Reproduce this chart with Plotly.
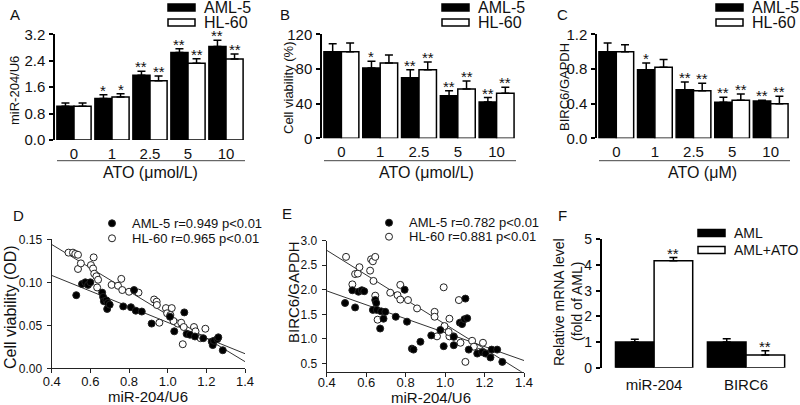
import plotly.graph_objects as go
import numpy as np

W, H = 800, 405

# ---------------- data ----------------
ato_labels = ["0", "1", "2.5", "5", "10"]

a_aml5 = [1.02, 1.26, 1.96, 2.65, 2.83]
a_aml5_err = [0.10, 0.11, 0.12, 0.11, 0.19]
a_hl60 = [1.02, 1.30, 1.79, 2.32, 2.45]
a_hl60_err = [0.10, 0.10, 0.15, 0.14, 0.15]
a_aml5_sig = ["", "*", "**", "**", "**"]
a_hl60_sig = ["", "*", "**", "**", "**"]

b_aml5 = [100, 81, 70, 49, 42]
b_aml5_err = [9, 8, 9, 6, 5]
b_hl60 = [100, 87, 79, 57, 52]
b_hl60_err = [10, 9, 9, 9, 7]
b_aml5_sig = ["", "*", "**", "**", "**"]
b_hl60_sig = ["", "", "**", "**", "**"]

c_aml5 = [1.00, 0.79, 0.56, 0.415, 0.43]
c_aml5_err = [0.10, 0.08, 0.09, 0.06, 0.01]
c_hl60 = [1.00, 0.82, 0.55, 0.44, 0.40]
c_hl60_err = [0.08, 0.09, 0.085, 0.07, 0.085]
c_aml5_sig = ["", "*", "**", "**", "**"]
c_hl60_sig = ["", "", "**", "**", "**"]

d_aml5_x = [0.527, 0.557, 0.574, 0.588, 0.600, 0.661, 0.666, 0.670, 0.683, 0.690,
            0.687, 0.700, 0.770, 0.810, 0.826, 0.835, 0.866, 0.917, 1.012, 1.034,
            1.086, 1.098, 1.115, 1.141, 1.184, 1.228, 1.233, 1.240, 1.257, 1.262, 1.285]
d_aml5_y = [0.085, 0.098, 0.100, 0.097, 0.100, 0.088, 0.083, 0.078, 0.079, 0.076,
            0.069, 0.074, 0.072, 0.071, 0.091, 0.067, 0.066, 0.052, 0.060, 0.043,
            0.065, 0.040, 0.039, 0.037, 0.035, 0.031, 0.027, 0.032, 0.034, 0.036, 0.021]
d_hl60_x = [0.487, 0.510, 0.522, 0.536, 0.536, 0.551, 0.603, 0.614, 0.617, 0.620,
            0.631, 0.640, 0.635, 0.710, 0.743, 0.760, 0.765, 0.800, 0.849, 0.930,
            0.943, 0.944, 0.957, 0.991, 0.997, 1.014, 1.021, 1.052, 1.070, 1.078,
            1.083, 1.136, 1.144, 1.170, 1.195, 1.030]
d_hl60_y = [0.1345, 0.1345, 0.133, 0.132, 0.1155, 0.122, 0.120, 0.116, 0.129, 0.110,
            0.107, 0.103, 0.094, 0.097, 0.096, 0.104, 0.091, 0.089, 0.088, 0.080,
            0.0775, 0.0736, 0.053, 0.070, 0.064, 0.062, 0.070, 0.052, 0.053, 0.028,
            0.048, 0.048, 0.043, 0.035, 0.046, 0.055]

e_aml5_x = [0.493, 0.530, 0.544, 0.561, 0.578, 0.590, 0.634, 0.646, 0.651, 0.654,
            0.671, 0.676, 0.688, 0.697, 0.750, 0.795, 0.807, 0.832, 0.840, 0.875,
            0.930, 0.976, 0.993, 1.044, 1.044, 1.075, 1.086, 1.098, 1.103, 1.112,
            1.120, 1.163, 1.188, 1.205, 1.230, 1.236, 1.264, 1.290]
e_aml5_y = [1.73, 1.99, 1.64, 1.96, 1.99, 1.97, 1.59, 1.79, 1.73, 1.59,
            1.21, 1.56, 1.41, 1.55, 1.45, 2.00, 1.35, 0.80, 0.78, 0.94,
            1.07, 1.18, 0.85, 1.04, 0.87, 1.33, 1.30, 1.40, 1.82, 1.42,
            0.78, 0.70, 0.73, 0.70, 0.62, 0.78, 0.78, 0.53]
e_hl60_x = [0.498, 0.530, 0.544, 0.558, 0.566, 0.620, 0.625, 0.634, 0.646, 0.637,
            0.646, 0.658, 0.722, 0.759, 0.773, 0.773, 0.812, 0.858, 0.947, 0.947,
            0.959, 0.993, 0.997, 1.022, 1.022, 1.044, 1.070, 1.078, 1.103, 1.137,
            1.146, 1.171, 1.192, 1.018]
e_hl60_y = [2.67, 2.11, 2.32, 2.33, 2.46, 2.39, 2.62, 2.58, 2.67, 2.18,
            1.88, 1.39, 1.94, 1.89, 2.10, 1.80, 1.79, 1.62, 1.55, 1.45,
            1.05, 2.05, 1.26, 1.41, 1.05, 1.05, 1.79, 0.92, 0.53, 0.96,
            0.84, 0.73, 0.92, 1.14]

f_genes = ["miR-204", "BIRC6"]
f_aml = [1.00, 1.00]
f_aml_err = [0.11, 0.13]
f_ato = [4.16, 0.49]
f_ato_err = [0.13, 0.17]
f_aml_sig = ["", ""]
f_ato_sig = ["**", "**"]

# ---------------- helpers ----------------
FONT = "Arial, 'Liberation Sans', sans-serif"
INK = "#111111"


def px(x):
    return x / W


def py(y):
    return 1 - y / H


fig = go.Figure()
annotations = []
shapes = []


def text(x, y, s, size, xanchor="center", yanchor="middle", angle=0):
    annotations.append(dict(x=px(x), y=py(y), xref="paper", yref="paper", text=s,
                            showarrow=False, xanchor=xanchor, yanchor=yanchor,
                            textangle=angle, font=dict(size=size, family=FONT, color=INK)))


def bars(xa, ya, s1, e1, s2, e2, sig1, sig2, w):
    x = list(range(len(s1)))
    n = len(s1)
    common = dict(xaxis=xa, yaxis=ya, showlegend=False, hoverinfo="skip")
    fig.add_bar(x=x, y=s1, width=w, offset=-w,
                marker=dict(color="black", line=dict(color="black", width=1.5)),
                error_y=dict(type="data", array=e1, arrayminus=[0] * n, symmetric=False,
                             color="black", thickness=1.5, width=4), **common)
    fig.add_bar(x=x, y=s2, width=w, offset=0,
                marker=dict(color="white", line=dict(color="black", width=1.5)),
                error_y=dict(type="data", array=e2, arrayminus=[0] * n, symmetric=False,
                             color="black", thickness=1.5, width=4), **common)
    for i in range(n):
        for val, err, sg, sh in ((s1[i], e1[i], sig1[i], -w / 2), (s2[i], e2[i], sig2[i], w / 2)):
            if sg:
                annotations.append(dict(x=i + sh, y=val + err, xref=xa, yref=ya, text=sg,
                                        showarrow=False, yanchor="bottom", yshift=-6,
                                        font=dict(size=15, family=FONT, color=INK)))


def rect_legend(x0, labels, fills, ys, size=15, w=27, h=7):
    for lab, fill, yc in zip(labels, fills, ys):
        shapes.append(dict(type="rect", xref="paper", yref="paper",
                           x0=px(x0), x1=px(x0 + w), y0=py(yc + h / 2), y1=py(yc - h / 2),
                           fillcolor=fill, line=dict(color="black", width=1.5)))
        text(x0 + w + 7, yc, lab, size, xanchor="left")


def dot_legend(cx, labels, fills, ys, size=12, d=7):
    for lab, fill, yc in zip(labels, fills, ys):
        shapes.append(dict(type="circle", xref="paper", yref="paper",
                           x0=px(cx - d / 2), x1=px(cx + d / 2), y0=py(yc + d / 2), y1=py(yc - d / 2),
                           fillcolor=fill, line=dict(color="#222222", width=1)))
        text(cx + 18, yc, lab, size, xanchor="left")


def scatter(xa, ya, xs, ys, fill):
    fig.add_scatter(x=xs, y=ys, mode="markers", xaxis=xa, yaxis=ya, showlegend=False,
                    marker=dict(size=7, color=fill, line=dict(color="#222222", width=1)),
                    hoverinfo="skip")


def fitline(xa, ya, xs, ys, x0, x1):
    k, b = np.polyfit(xs, ys, 1)
    xx = [x0, x1]
    fig.add_scatter(x=xx, y=[k * v + b for v in xx], mode="lines", xaxis=xa, yaxis=ya,
                    showlegend=False, line=dict(color="#333333", width=1), hoverinfo="skip")


# ---------------- traces ----------------
BW = 0.45
bars("x", "y", a_aml5, a_aml5_err, a_hl60, a_hl60_err, a_aml5_sig, a_hl60_sig, BW)
bars("x2", "y2", b_aml5, b_aml5_err, b_hl60, b_hl60_err, b_aml5_sig, b_hl60_sig, BW)
bars("x3", "y3", c_aml5, c_aml5_err, c_hl60, c_hl60_err, c_aml5_sig, c_hl60_sig, BW)

fitline("x4", "y4", d_aml5_x, d_aml5_y, 0.4, 1.4)
fitline("x4", "y4", d_hl60_x, d_hl60_y, 0.4, 1.4)
scatter("x4", "y4", d_hl60_x, d_hl60_y, "white")
scatter("x4", "y4", d_aml5_x, d_aml5_y, "black")

fitline("x5", "y5", e_aml5_x, e_aml5_y, 0.4, 1.4)
fitline("x5", "y5", e_hl60_x, e_hl60_y, 0.4, 1.4)
scatter("x5", "y5", e_hl60_x, e_hl60_y, "white")
scatter("x5", "y5", e_aml5_x, e_aml5_y, "black")

bars("x6", "y6", f_aml, f_aml_err, f_ato, f_ato_err, f_aml_sig, f_ato_sig, 0.42)

# ---------------- axes ----------------
tickfont = dict(size=15, family=FONT, color=INK)
small_tickfont = dict(size=12, family=FONT, color=INK)


def yax(dom, rng, tv, fmt, anchor, font=tickfont):
    return dict(domain=[py(dom[1]), py(dom[0])], range=rng, tickvals=tv, tickformat=fmt,
                showline=True, linecolor="black", linewidth=1.5, ticks="outside",
                ticklen=4, tickwidth=1.5, tickcolor="black", showgrid=False,
                zeroline=False, anchor=anchor, tickfont=font, fixedrange=True,
                automargin=False, ticklabelstandoff=1)


def xcat(dom, rng, labels, anchor, standoff=3):
    return dict(domain=[px(dom[0]), px(dom[1])], range=rng,
                tickvals=list(range(len(labels))), ticktext=labels,
                showline=False, ticks="", showgrid=False, zeroline=False, anchor=anchor,
                tickfont=tickfont, ticklabelstandoff=standoff, fixedrange=True,
                automargin=False)


def xnum(dom, anchor, standoff=0):
    return dict(domain=[px(dom[0]), px(dom[1])], range=[0.4, 1.4],
                tickvals=[0.4, 0.6, 0.8, 1.0, 1.2, 1.4], tickformat=".1f",
                showline=True, linecolor="#222222", linewidth=1.2, ticks="outside",
                ticklen=4, tickwidth=1.2, tickcolor="#222222", showgrid=False,
                zeroline=False, anchor=anchor, tickfont=dict(size=13, family=FONT, color=INK),
                fixedrange=True, automargin=False, ticklabelstandoff=standoff)


layout = dict(
    template="none",
    width=W, height=H, autosize=False,
    margin=dict(l=0, r=0, t=0, b=0, pad=0),
    paper_bgcolor="white", plot_bgcolor="white",
    barmode="overlay", showlegend=False,
    font=dict(family=FONT, color=INK),
    xaxis=xcat((55, 245), [-0.5, 4.5], ato_labels, "y"),
    yaxis=yax((34.3, 140), [0, 3.2], [0, 0.8, 1.6, 2.4, 3.2], ".1f", "x"),
    xaxis2=xcat((322, 516), [-0.5, 4.5], ato_labels, "y2"),
    yaxis2=yax((34.3, 138.3), [0, 120], [0, 40, 80, 120], "d", "x2"),
    xaxis3=xcat((597, 790), [-0.5, 4.5], ato_labels, "y3"),
    yaxis3=yax((34.3, 138.3), [0, 1.2], [0, 0.4, 0.8, 1.2], ".1f", "x3"),
    xaxis4=xnum((51.7, 245), "y4", standoff=-3),
    yaxis4=dict(yax((239.3, 368.3), [0, 0.15], [0, 0.05, 0.10, 0.15], ".2f", "x4", small_tickfont),
                linecolor="#222222", linewidth=1.2, tickcolor="#222222", tickwidth=1.2,
                ticklabelstandoff=2),
    xaxis5=xnum((326.7, 524), "y5", standoff=-5),
    yaxis5=dict(yax((240.7, 371.7), [0.33, 3.0], [0.5, 1.0, 1.5, 2.0, 2.5, 3.0], ".1f", "x5", small_tickfont),
                linecolor="#222222", linewidth=1.2, tickcolor="#222222", tickwidth=1.2,
                ticklabelstandoff=2),
    xaxis6=xcat((601.7, 792), [-0.57, 1.5], f_genes, "y6", standoff=6),
    yaxis6=yax((239.3, 367.7), [0, 5], [0, 1, 2, 3, 4, 5], "d", "x6",
               dict(size=14, family=FONT, color=INK)),
)

# underline bars for dose groups
for x0, x1 in ((57, 245), (324, 516), (599, 790)):
    shapes.append(dict(type="line", xref="paper", yref="paper", x0=px(x0), x1=px(x1),
                       y0=py(160.7), y1=py(160.7), line=dict(color="#444444", width=1)))

# panel letters
for lab, x, y in (("A", 15, 15), ("B", 285, 15), ("C", 562, 15),
                  ("D", 18, 215), ("E", 287, 214), ("F", 562, 215)):
    text(x, y, lab, 15)

# axis titles
text(14, 91, "miR-204/U6", 13, angle=-90)
text(289, 88, "Cell viability (%)", 13, angle=-90)
text(565, 87, "BIRC6/GAPDH", 13, angle=-90)
text(150, 172, "ATO (μmol/L)", 16)
text(426, 172, "ATO (μmol/L)", 16)
text(702, 172, "ATO (μM)", 16)
text(10, 307, "Cell viability (OD)", 16, angle=-90)
text(148, 396, "miR-204/U6", 15)
text(293, 292, "BIRC6/GAPDH", 15, angle=-90)
text(431, 397, "miR-204/U6", 15)
text(559, 302, "Relative mRNA level", 14, angle=-90)
text(577, 302, "(fold of AML)", 14, angle=-90)

# legends
rect_legend(168, ["AML-5", "HL-60"], ["black", "white"], [7.5, 22.5], size=16)
rect_legend(442, ["AML-5", "HL-60"], ["black", "white"], [7.5, 22.5], size=16)
rect_legend(716, ["AML-5", "HL-60"], ["black", "white"], [7.5, 22.5], size=16)
rect_legend(698, ["AML", "AML+ATO"], ["black", "white"], [233, 250], size=14)
dot_legend(112, ["AML-5 r=0.949 p&lt;0.01", "HL-60 r=0.965 p&lt;0.01"], ["black", "white"], [223.3, 238.3], size=13)
dot_legend(389, ["AML-5 r=0.782 p&lt;0.01", "HL-60 r=0.881 p&lt;0.01"], ["black", "white"], [222.7, 236.7], size=13)

layout["annotations"] = annotations
layout["shapes"] = shapes
fig.update_layout(**layout)

fig.write_html("out.html", config={"displayModeBar": False},
               post_script="document.body.style.margin='0';document.body.style.overflow='hidden';")
